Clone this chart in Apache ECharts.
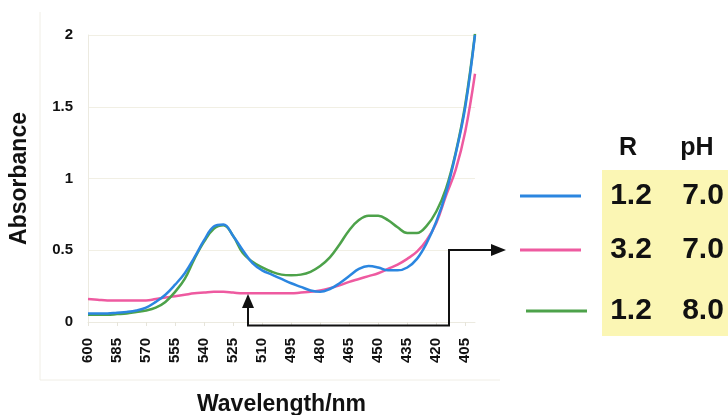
<!DOCTYPE html>
<html><head><meta charset="utf-8">
<script src="https://cdn.jsdelivr.net/npm/echarts@6/dist/echarts.min.js"></script>
<style>html,body{margin:0;padding:0;background:#fff}#c{width:728px;height:415px}</style>
</head><body><div id="c"></div>
<script>
const wavelengths = [600,595,590,585,580,575,570,565,560,555,550,545,540,535,530,525,520,515,510,505,500,495,490,485,480,475,470,465,460,455,450,445,440,435,430,425,420,415,410,405,400];
const blueR12pH70 = [0.06,0.06,0.06,0.065,0.07,0.08,0.10,0.14,0.19,0.26,0.34,0.45,0.57,0.665,0.68,0.60,0.50,0.41,0.36,0.33,0.30,0.27,0.245,0.22,0.21,0.23,0.27,0.32,0.37,0.39,0.38,0.36,0.36,0.38,0.44,0.55,0.70,0.90,1.17,1.50,2.0];
const pinkR32pH70 = [0.16,0.155,0.15,0.15,0.15,0.15,0.15,0.16,0.17,0.18,0.19,0.20,0.205,0.21,0.21,0.205,0.20,0.20,0.20,0.20,0.20,0.20,0.205,0.21,0.22,0.235,0.255,0.28,0.30,0.32,0.34,0.37,0.40,0.44,0.49,0.57,0.69,0.88,1.06,1.33,1.73];
const greenR12pH80 = [0.05,0.05,0.05,0.055,0.06,0.07,0.08,0.10,0.14,0.21,0.30,0.44,0.56,0.65,0.675,0.60,0.48,0.42,0.38,0.35,0.33,0.325,0.33,0.35,0.39,0.45,0.54,0.64,0.71,0.74,0.74,0.71,0.66,0.62,0.62,0.67,0.77,0.93,1.18,1.52,2.01];
const legendR = ['1.2','3.2','1.2'];
const legendPH = ['7.0','7.0','8.0'];
const colors = ['#2b86e0','#ee5aa0','#4da24a'];

const chart = echarts.init(document.getElementById('c'));
const F = 'Liberation Sans, Arial, sans-serif';
const mkSeries = (name, data, color) => ({
  name, type:'line', data, smooth:0.4, symbol:'none',
  lineStyle:{color, width:2.5}, itemStyle:{color}, z:3
});
const legendYs = [196,250,311];
const legendGraphics = [];
legendGraphics.push({type:'rect', shape:{x:602,y:170,width:126,height:166}, style:{fill:'#fbf6b4'}, z:1});
legendGraphics.push({type:'text', style:{text:'R', x:628, y:148, align:'center', verticalAlign:'middle', font:'bold 25px '+F, fill:'#111'}});
legendGraphics.push({type:'text', style:{text:'pH', x:697, y:148, align:'center', verticalAlign:'middle', font:'bold 25px '+F, fill:'#111'}});
for (let i=0;i<3;i++){
  const y = legendYs[i];
  const x0 = i===2 ? 526 : 520;
  legendGraphics.push({type:'line', shape:{x1:x0,y1:y,x2:x0+61,y2:y}, style:{stroke:colors[i], lineWidth:3}});
  legendGraphics.push({type:'text', style:{text:legendR[i], x:631, y:y, align:'center', verticalAlign:'middle', font:'bold 30px '+F, fill:'#111'}, z:5});
  legendGraphics.push({type:'text', style:{text:legendPH[i], x:703, y:y, align:'center', verticalAlign:'middle', font:'bold 30px '+F, fill:'#111'}, z:5});
}
// arrows
legendGraphics.push({type:'polyline', shape:{points:[[248,306],[248,325.5],[449,325.5],[449,250],[492,250]]}, style:{stroke:'#111', lineWidth:2, fill:null}, z:6});
legendGraphics.push({type:'polygon', shape:{points:[[248,294],[242,308],[254,308]]}, style:{fill:'#111'}, z:6});
legendGraphics.push({type:'polygon', shape:{points:[[506,250],[491,244],[491,256]]}, style:{fill:'#111'}, z:6});
// faint frame
legendGraphics.push({type:'polyline', shape:{points:[[40,12],[40,380],[500,380]]}, style:{stroke:'#f0eee6', lineWidth:1, fill:null}, z:0});

chart.setOption({
  backgroundColor:'#ffffff',
  animation:false,
  grid:{left:88, right:253, top:35, bottom:93, outerBoundsMode:'none', containLabel:false},
  xAxis:{
    type:'category', data:wavelengths, boundaryGap:false,
    name:'Wavelength/nm', nameLocation:'middle', nameGap:71,
    nameTextStyle:{fontFamily:F, fontWeight:'bold', fontSize:23, color:'#111'},
    axisLine:{lineStyle:{color:'#eceae0'}},
    axisTick:{show:true, interval:2, length:4, lineStyle:{color:'#e6e4da'}},
    axisLabel:{interval:2, rotate:90, margin:16, fontFamily:F, fontWeight:'bold', fontSize:15, color:'#111'},
    splitLine:{show:false}
  },
  yAxis:{
    type:'value', min:0, max:2, interval:0.5,
    name:'Absorbance', nameLocation:'middle', nameGap:57,
    nameTextStyle:{fontFamily:F, fontWeight:'bold', fontSize:23, color:'#111'},
    axisLine:{show:true, lineStyle:{color:'#eceae0'}},
    axisTick:{show:false},
    axisLabel:{margin:15, fontFamily:F, fontWeight:'bold', fontSize:15, color:'#111'},
    splitLine:{lineStyle:{color:'#f1efe4'}}
  },
  series:[
    mkSeries('R 3.2 pH 7.0', pinkR32pH70, colors[1]),
    mkSeries('R 1.2 pH 8.0', greenR12pH80, colors[2]),
    mkSeries('R 1.2 pH 7.0', blueR12pH70, colors[0])
  ],
  graphic:legendGraphics
});
</script></body></html>
